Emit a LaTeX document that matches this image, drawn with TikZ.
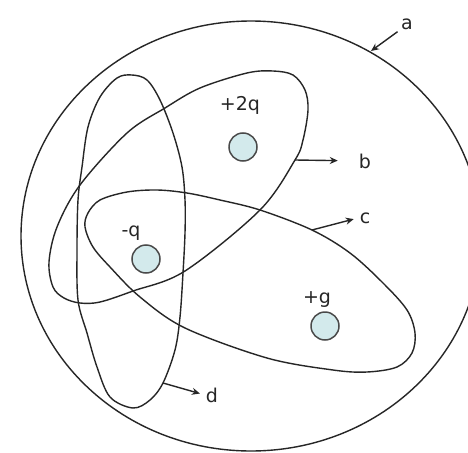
\documentclass[tikz,border=0pt]{standalone}
\usepackage{fontspec}
\setmainfont{DejaVu Sans}
\usetikzlibrary{arrows.meta}
\definecolor{ink}{HTML}{262626}
\definecolor{chargefill}{HTML}{D3EAEC}
\definecolor{chargeline}{HTML}{4A4A4A}
\begin{document}
\begin{tikzpicture}[x=1pt,y=-1pt,
  surf/.style={draw=ink, line width=1.4pt},
  arr/.style={draw=ink, line width=1.4pt, -{Stealth[length=8pt,width=7pt]}},
  lbl/.style={font=\fontsize{19}{19}\selectfont, text=ink, inner sep=1pt, anchor=base},
  charge/.style={circle, draw=chargeline, fill=chargefill, line width=1.5pt, minimum size=28pt, inner sep=0pt}]
\useasboundingbox (0,0) rectangle (468,452);
\fill[white] (0,0) rectangle (468,452);
\begin{scope}
\clip (0,0) rectangle (468,452);
% outer surface a (runs past the right edge)
\draw[surf] (251,236) ellipse [x radius=230, y radius=215];
\end{scope}
% surface b
\draw[surf] plot[smooth cycle, tension=0.55] coordinates {
 (49,262) (57,227) (80,185) (127,133) (165,108) (200,88) (247,73) (273,71)
 (293,75) (305,90) (308,110) (303,140) (295,160) (260,210) (185,271) (133,291)
 (100,302) (80,303) (64,298) (53,287)};
% surface c
\draw[surf] plot[smooth cycle, tension=0.55] coordinates {
 (85,227) (88,213) (100,200) (127,192) (157,190) (187,193) (220,200) (260,210)
 (312,230) (350,253) (383,283) (407,310) (415,333) (412,353) (397,367) (367,372)
 (333,370) (267,358) (185,328) (140,297) (110,267) (93,247)};
% surface d
\draw[surf] plot[smooth cycle, tension=0.55] coordinates {
 (132,75) (147,80) (160,100) (173,133) (182,167) (185,200) (185,233) (183,273)
 (180,317) (175,350) (163,383) (150,400) (133,408) (110,397) (97,367) (87,333)
 (78,300) (77,250) (78,200) (82,167) (88,127) (100,97) (117,78)};
% charges
\node[charge] (q2q) at (243,147) {};
\node[charge] (qm) at (146,259) {};
\node[charge] (qp) at (325,326) {};
\node[lbl] (l2q) at (240,110) {+2q};
\node[lbl] (lqm) at (131,236) {-q};
\node[lbl] (lqp) at (317,303) {+g};
% surface labels
\node[lbl] (la) at (407,30) {a};
\node[lbl] (lb) at (365,168) {b};
\node[lbl] (lc) at (365,223) {c};
\node[lbl] (ld) at (212,402) {d};
% connector ends
\coordinate (atip) at (371,51);
\coordinate (bs) at (295,160);
\coordinate (cs) at (312,230);
\coordinate (ds) at (163,383);
\draw[arr, shorten <=3pt] (la) -- (atip);
\draw[arr, shorten >=20pt] (bs) -- (lb.west);
\draw[arr, shorten >=5pt] (cs) -- (lc.west);
\draw[arr, shorten >=5pt] (ds) -- (ld.west);
\end{tikzpicture}
\end{document}
